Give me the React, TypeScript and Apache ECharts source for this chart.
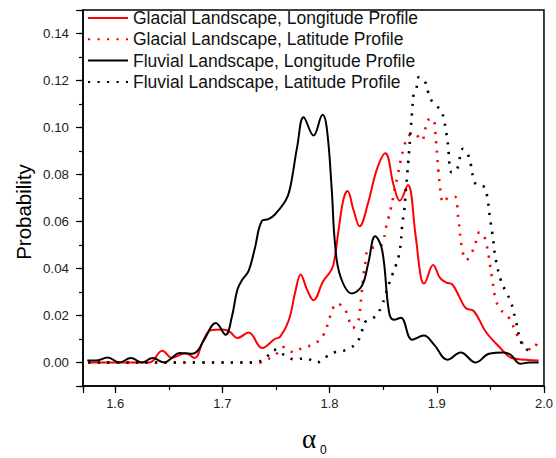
import React, { useEffect, useRef } from "react";
import * as echarts from "echarts";

// Glacial Landscape, Longitude Profile (red solid)
const glacialLonAlpha = [1.575, 1.59, 1.61, 1.632, 1.644, 1.653, 1.666, 1.674, 1.682, 1.689, 1.7, 1.707, 1.714, 1.7245, 1.737, 1.749, 1.754, 1.762, 1.768, 1.773, 1.779, 1.785, 1.794, 1.802, 1.805, 1.8085, 1.813, 1.8167, 1.8223, 1.828, 1.836, 1.844, 1.852, 1.86, 1.8655, 1.873, 1.88, 1.885, 1.888, 1.8966, 1.903, 1.909, 1.9145, 1.921, 1.927, 1.9347, 1.9456, 1.958, 1.97, 1.983, 1.995];
const glacialLonProb = [0, 0, 0, 0, 0.005, 0.002, 0.004, 0.0019, 0.009, 0.0137, 0.014, 0.013, 0.0104, 0.0128, 0.0062, 0.01, 0.011, 0.018, 0.03, 0.0375, 0.031, 0.0265, 0.0346, 0.0396, 0.045, 0.0567, 0.0695, 0.073, 0.065, 0.058, 0.068, 0.082, 0.089, 0.075, 0.0688, 0.0755, 0.055, 0.0368, 0.0336, 0.0415, 0.036, 0.034, 0.0332, 0.028, 0.0232, 0.0218, 0.0132, 0.0068, 0.0019, 0.0012, 0.0008];

// Glacial Landscape, Latitude Profile (red dotted)
const glacialLatAlpha = [1.575, 1.62, 1.68, 1.735, 1.74, 1.749, 1.757, 1.7665, 1.7758, 1.785, 1.7944, 1.8006, 1.8068, 1.8136, 1.8178, 1.8215, 1.826, 1.828, 1.83, 1.8321, 1.8337, 1.8352, 1.8408, 1.846, 1.85, 1.8523, 1.8547, 1.857, 1.8637, 1.8695, 1.8742, 1.879, 1.886, 1.889, 1.8922, 1.8966, 1.8984, 1.9015, 1.9037, 1.9061, 1.9114, 1.917, 1.92, 1.9238, 1.9275, 1.9326, 1.9363, 1.94, 1.945, 1.9518, 1.955, 1.9596, 1.9673, 1.9766, 1.9844, 1.989, 1.9946];
const glacialLatProb = [0, 0, 0, 0, 0.001, 0.003, 0.0066, 0.0044, 0.0066, 0.0076, 0.0118, 0.0197, 0.0251, 0.0232, 0.0185, 0.0147, 0.0168, 0.0211, 0.0297, 0.0389, 0.0432, 0.0477, 0.0489, 0.049, 0.0517, 0.0567, 0.061, 0.0652, 0.08, 0.0919, 0.0966, 0.0973, 0.0944, 0.099, 0.1033, 0.1037, 0.0991, 0.0816, 0.0724, 0.068, 0.0703, 0.0705, 0.0617, 0.048, 0.0436, 0.0467, 0.051, 0.0555, 0.0528, 0.0353, 0.0268, 0.0225, 0.019, 0.0104, 0.0062, 0.0054, 0.0097];

// Fluvial Landscape, Longitude Profile (black solid)
const fluvialLonAlpha = [1.574, 1.582, 1.593, 1.604, 1.6147, 1.625, 1.635, 1.6458, 1.653, 1.66, 1.672, 1.677, 1.683, 1.694, 1.703, 1.709, 1.714, 1.7187, 1.7245, 1.73, 1.737, 1.743, 1.749, 1.7589, 1.763, 1.77, 1.7758, 1.785, 1.7935, 1.7975, 1.802, 1.805, 1.81, 1.8208, 1.83, 1.836, 1.8425, 1.849, 1.8556, 1.86, 1.8665, 1.877, 1.888, 1.8975, 1.91, 1.9223, 1.9363, 1.9487, 1.9627, 1.9689, 1.978, 1.986, 1.995];
const fluvialLonProb = [0.0009, 0.0008, 0.0021, 0, 0.0019, 0, 0.0019, 0, 0.002, 0.004, 0.0037, 0.005, 0.0097, 0.0168, 0.0118, 0.0197, 0.031, 0.0353, 0.039, 0.048, 0.0603, 0.061, 0.063, 0.0688, 0.0738, 0.0923, 0.1044, 0.0966, 0.1054, 0.0994, 0.0738, 0.051, 0.0368, 0.0294, 0.0325, 0.042, 0.0537, 0.048, 0.0211, 0.0182, 0.019, 0.0097, 0.0115, 0.0076, 0.0012, 0.0043, 0, 0.0037, 0.0043, 0.0033, -0.0005, 0, 0];

// Fluvial Landscape, Latitude Profile (black dotted)
const fluvialLatAlpha = [1.575, 1.62, 1.68, 1.73, 1.74, 1.749, 1.7589, 1.768, 1.7774, 1.788, 1.7975, 1.8068, 1.816, 1.8255, 1.83, 1.8337, 1.843, 1.8484, 1.8518, 1.8549, 1.8587, 1.8618, 1.8649, 1.8665, 1.868, 1.8695, 1.871, 1.8735, 1.8757, 1.8772, 1.8788, 1.881, 1.8835, 1.889, 1.8922, 1.8959, 1.9037, 1.9068, 1.91, 1.914, 1.9186, 1.9245, 1.9285, 1.9316, 1.9363, 1.944, 1.947, 1.9496, 1.9518, 1.955, 1.9596, 1.9642, 1.969, 1.9735, 1.979, 1.9844, 1.988];
const fluvialLatProb = [0, 0, 0, 0, 0.0019, 0.0054, 0.0029, 0.0012, 0.0019, 0, 0.0026, 0.0047, 0.0054, 0.0085, 0.0132, 0.0175, 0.0197, 0.0239, 0.0282, 0.0328, 0.0375, 0.0413, 0.046, 0.0515, 0.0596, 0.0638, 0.0724, 0.0859, 0.0991, 0.108, 0.1151, 0.1168, 0.1215, 0.1194, 0.1148, 0.1109, 0.1073, 0.103, 0.0944, 0.0809, 0.0819, 0.0909, 0.089, 0.0845, 0.0759, 0.0748, 0.0707, 0.0617, 0.055, 0.0439, 0.0353, 0.0303, 0.026, 0.0182, 0.0083, 0.0054, 0.0047];

const seriesNames = [
  "Glacial Landscape, Longitude Profile",
  "Glacial Landscape, Latitude Profile",
  "Fluvial Landscape, Longitude Profile",
  "Fluvial Landscape, Latitude Profile",
];

const xMin = 1.57;
const xMax = 2.0;
const yMin = -0.01;
const yMax = 0.15;

const FONT = "'Liberation Sans', Arial, Helvetica, sans-serif";

function zip(xs: number[], ys: number[]) {
  return xs.map((x, i) => [x, ys[i]]);
}

export default function App() {
  const ref = useRef<HTMLDivElement>(null);
  useEffect(() => {
    if (!ref.current) return;
    const chart = echarts.init(ref.current, undefined, { renderer: "svg" });
    const solid = { width: 2, type: "solid" as const };
    const dotted = { width: 2.6, type: [2.2, 7.3] as any, cap: "butt" as const };
    const option: any = {
      animation: false,
      backgroundColor: "#fff",
      grid: {
        left: 83,
        right: 11,
        top: 10,
        bottom: 72,
        show: true,
        borderColor: "#000",
        borderWidth: 1.5,
        backgroundColor: "transparent",
      },
      legend: {
        orient: "vertical",
        left: 87,
        top: 9,
        padding: 0,
        itemWidth: 40,
        itemHeight: 1,
        itemGap: 3.3,
        data: seriesNames,
        itemStyle: { opacity: 0, borderWidth: 0 },
        textStyle: { fontFamily: FONT, fontSize: 17.5, color: "#111", lineHeight: 18 },
      },
      xAxis: [
        {
          type: "value",
          min: xMin,
          max: xMax,
          splitNumber: 9,
          position: "bottom",
          splitLine: { show: false },
          axisLine: { show: true, onZero: false, lineStyle: { color: "#000", width: 1.5 } },
          axisTick: { show: true, length: 4, lineStyle: { color: "#000", width: 1.2 } },
          axisLabel: {
            margin: 11,
            fontFamily: FONT,
            fontSize: 13,
            color: "#222",
            showMinLabel: true,
            showMaxLabel: true,
            formatter: (v: number) => {
              const t = v * 10;
              return Math.abs(t - Math.round(t)) < 1e-6 ? v.toFixed(1) : "";
            },
          },
        },
        {
          type: "value",
          min: xMin,
          max: xMax,
          splitNumber: 4,
          position: "bottom",
          splitLine: { show: false },
          axisLine: { show: false, onZero: false },
          axisTick: { show: true, length: 7, lineStyle: { color: "#000", width: 1.2 } },
          axisLabel: { show: false },
        },
      ],
      yAxis: [
        {
          type: "value",
          min: yMin,
          max: yMax,
          splitNumber: 16,
          position: "left",
          splitLine: { show: false },
          axisLine: { show: true, onZero: false, lineStyle: { color: "#000", width: 1.5 } },
          axisTick: { show: true, length: 4, lineStyle: { color: "#000", width: 1.2 } },
          axisLabel: {
            margin: 14,
            fontFamily: FONT,
            fontSize: 13.3,
            color: "#222",
            formatter: (v: number) => {
              const t = v * 50;
              if (v < -1e-9 || v > 0.1400001) return "";
              return Math.abs(t - Math.round(t)) < 1e-6 ? v.toFixed(2) : "";
            },
          },
        },
        {
          type: "value",
          min: yMin,
          max: yMax,
          splitNumber: 8,
          position: "left",
          splitLine: { show: false },
          axisLine: { show: false, onZero: false },
          axisTick: { show: true, length: 7, lineStyle: { color: "#000", width: 1.2 } },
          axisLabel: { show: false },
        },
      ],
      series: [
        {
          name: seriesNames[0],
          type: "line",
          data: zip(glacialLonAlpha, glacialLonProb),
          smooth: 0.4,
          showSymbol: false,
          symbol: "none",
          color: "#ff0000",
          lineStyle: { ...solid, color: "#ff0000" },
        },
        {
          name: seriesNames[1],
          type: "line",
          data: zip(glacialLatAlpha, glacialLatProb),
          smooth: 0.4,
          showSymbol: false,
          symbol: "none",
          color: "#ff0000",
          lineStyle: { ...dotted, color: "#ff0000" },
        },
        {
          name: seriesNames[2],
          type: "line",
          data: zip(fluvialLonAlpha, fluvialLonProb),
          smooth: 0.4,
          showSymbol: false,
          symbol: "none",
          color: "#000000",
          lineStyle: { ...solid, color: "#000000" },
        },
        {
          name: seriesNames[3],
          type: "line",
          data: zip(fluvialLatAlpha, fluvialLatProb),
          smooth: 0.4,
          showSymbol: false,
          symbol: "none",
          color: "#000000",
          lineStyle: { ...dotted, color: "#000000" },
        },
      ],
      graphic: [
        {
          type: "text",
          x: 23,
          y: 212,
          rotation: Math.PI / 2,
          style: {
            text: "Probability",
            fontFamily: FONT,
            fontSize: 20.5,
            fill: "#000",
            align: "center",
            verticalAlign: "middle",
          },
        },
        {
          type: "text",
          x: 302,
          y: 439,
          style: {
            text: "α",
            fontFamily: "'Liberation Serif', 'Times New Roman', serif",
            fontSize: 27,
            fill: "#000",
            align: "left",
            verticalAlign: "middle",
          },
        },
        {
          type: "text",
          x: 320,
          y: 450,
          style: {
            text: "0",
            fontFamily: FONT,
            fontSize: 12,
            fill: "#000",
            align: "left",
            verticalAlign: "middle",
          },
        },
      ],
    };
    chart.setOption(option);
    return () => chart.dispose();
  }, []);
  return <div ref={ref} style={{ width: 556, height: 458, position: "absolute", left: 0, top: 0 }} />;
}
